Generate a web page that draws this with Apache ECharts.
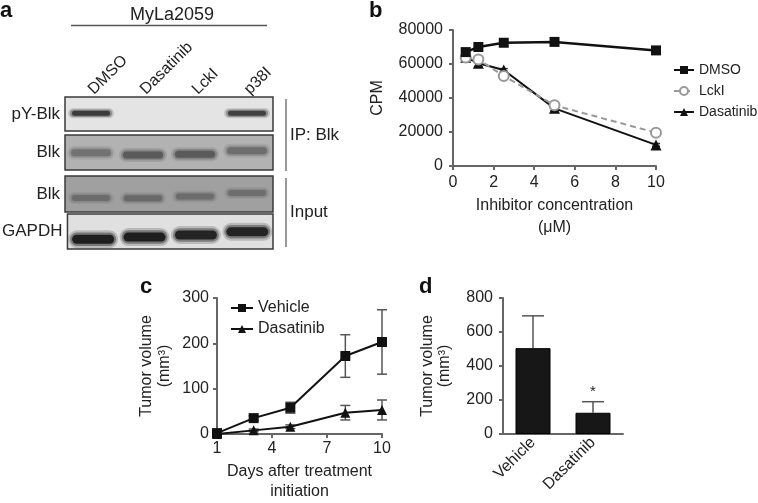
<!DOCTYPE html>
<html>
<head>
<meta charset="utf-8">
<script src="https://cdn.jsdelivr.net/npm/echarts@6/dist/echarts.min.js"></script>
<style>
  html, body { margin: 0; padding: 0; background: #fff; }
  #chart { width: 758px; height: 503px; }
</style>
</head>
<body>
<div id="chart"></div>
<script>
// ---- panel a: blot (band intensity 0..1 per lane)
const lanes = ['DMSO', 'Dasatinib', 'LckI', 'p38I'];
const blotRows = ['pY-Blk', 'Blk', 'Blk', 'GAPDH'];
const pYBlk = [0.85, 0, 0, 0.8];
const blkIP = [0.5, 0.8, 0.8, 0.55];
const blkInput = [0.55, 0.6, 0.55, 0.5];
const gapdh = [0.95, 0.95, 0.9, 0.9];

// ---- panel b: CPM vs inhibitor concentration (uM)
const concB = [0.625, 1.25, 2.5, 5, 10];
const cpmDMSO = [67000, 70000, 72500, 73000, 68000];
const cpmLckI = [63800, 62700, 52900, 35700, 19600];
const cpmDasatinib = [64000, 60400, 56500, 33900, 12400];
const errDasatinibB = [1000, 2200, 800, 1200, 800];

// ---- panel c: tumour volume over time
const daysC = [1, 3, 5, 8, 10];
const volVehicle = [2, 35, 58, 172, 203];
const errVehicle = [2, 5, 12, 47, 71];
const volDasatinib = [0, 8, 16, 47, 53];
const errDasatinib = [1, 3, 4, 16, 22];

// ---- panel d: final tumour volume
const groupsD = ['Vehicle', 'Dasatinib'];
const volD = [505, 125];
const errD = [190, 65];
const sigD = ['', '*'];

const txt = '#222';
const axisCol = '#666';
const font = '"Liberation Sans", Arial, sans-serif';

const chart = echarts.init(document.getElementById('chart'));

// blot layout: band colour, band core size, relative band height per lane
const blotBoxes = [
  { top: 97, height: 34, bg: '#e4e4e4', ink: '#222', band: [38, 5], pos: [0.52, 0.5, 0.5, 0.52] },
  { top: 135, height: 35, bg: '#b2b2b2', ink: '#4a4a4a', band: [40, 7], pos: [0.49, 0.43, 0.45, 0.55] },
  { top: 176, height: 36, bg: '#a0a0a0', ink: '#505050', band: [38, 6], pos: [0.39, 0.38, 0.43, 0.53] },
  { top: 214, height: 35, bg: '#e0e0e0', ink: '#101010', band: [42, 9], pos: [0.28, 0.34, 0.4, 0.49] }
];
const blotData = [pYBlk, blkIP, blkInput, gapdh];

// a blurred band: a few nested rounded rects with falling opacity
function bandItem(box) {
  const w = box.band[0], h = box.band[1];
  const layers = [[2.0, 8, 0.2], [1.5, 4, 0.4], [1.0, 0, 0.9]];
  return function (params, api) {
    const c = api.coord([api.value(0), api.value(1)]);
    const v = api.value(2);
    return {
      type: 'group',
      children: layers.map(([hs, wx, a]) => ({
        type: 'rect',
        shape: { x: c[0] - (w + wx) / 2, y: c[1] - h * hs / 2, width: w + wx, height: h * hs, r: h * hs / 2 },
        style: { fill: box.ink, opacity: a * v }
      }))
    };
  };
}

function axisLine() { return { show: true, onZero: false, lineStyle: { color: axisCol, width: 2 } }; }
function axisTick() { return { show: true, length: 4, lineStyle: { color: axisCol, width: 2 } }; }
function labelStyle(margin) { return { color: txt, fontSize: 16, fontFamily: font, margin: margin, formatter: v => String(v) }; }
function nameStyle(lh) { return { color: txt, fontSize: 16, fontFamily: font, lineHeight: lh }; }

function errorBars(capW, upperOnly, color, marks) {
  return function (params, api) {
    const x = api.value(0), y = api.value(1), e = api.value(2);
    const top = api.coord([x, y + e]);
    const bot = api.coord([x, upperOnly ? y : y - e]);
    const st = { stroke: color, lineWidth: 1.5 };
    const children = [
      { type: 'line', shape: { x1: top[0], y1: top[1], x2: bot[0], y2: bot[1] }, style: st },
      { type: 'line', shape: { x1: top[0] - capW / 2, y1: top[1], x2: top[0] + capW / 2, y2: top[1] }, style: st }
    ];
    if (!upperOnly)
      children.push({ type: 'line', shape: { x1: bot[0] - capW / 2, y1: bot[1], x2: bot[0] + capW / 2, y2: bot[1] }, style: st });
    if (marks && marks[params.dataIndex])
      children.push({ type: 'text', style: { text: marks[params.dataIndex], x: top[0], y: top[1] - 10, align: 'center', verticalAlign: 'middle', fontSize: 15, fontFamily: font, fill: txt } });
    return { type: 'group', children: children };
  };
}

const zip = (xs, ys) => xs.map((x, i) => [x, ys[i]]);
const zip3 = (xs, ys, es) => xs.map((x, i) => [x, ys[i], es[i]]);

const grids = blotBoxes.map(b => ({
  left: 65, width: 208, top: b.top, height: b.height, show: true,
  backgroundColor: b.bg, borderColor: '#3a3a3a', borderWidth: 1.5
}));
grids.push({ left: 453, width: 203, top: 30, height: 136 });   // b
grids.push({ left: 217, width: 165, top: 298, height: 136 });  // c
grids.push({ left: 503, width: 120, top: 298, height: 136 });  // d

const xAxes = blotBoxes.map((b, i) => ({
  type: 'category', gridIndex: i, data: lanes, position: 'top',
  axisLine: { show: false }, axisTick: { show: false },
  axisLabel: { show: i === 0, rotate: 45, color: txt, fontSize: 16, fontFamily: font, margin: 5 }
}));
xAxes.push({
  type: 'value', gridIndex: 4, min: 0, max: 10, interval: 2,
  splitLine: { show: false }, axisLine: axisLine(), axisTick: axisTick(), axisLabel: labelStyle(9),
  name: 'Inhibitor concentration\n(\u03bcM)', nameLocation: 'middle', nameGap: 29, nameTextStyle: nameStyle(22)
});
xAxes.push({
  type: 'value', gridIndex: 5, min: 1, max: 10, interval: 3,
  splitLine: { show: false }, axisLine: axisLine(), axisTick: axisTick(), axisLabel: labelStyle(7),
  name: 'Days after treatment\ninitiation', nameLocation: 'middle', nameGap: 28, nameTextStyle: nameStyle(20)
});
xAxes.push({
  type: 'category', gridIndex: 6, data: groupsD,
  axisLine: axisLine(), axisTick: { show: false },
  axisLabel: { color: txt, fontSize: 16, fontFamily: font, rotate: 45, margin: 6 }
});

const yAxes = blotBoxes.map((b, i) => ({
  type: 'value', gridIndex: i, min: 0, max: 1,
  axisLine: { show: false }, axisTick: { show: false }, axisLabel: { show: false }, splitLine: { show: false },
  name: blotRows[i], nameLocation: 'middle', nameRotate: 0, nameGap: 5,
  nameTextStyle: { color: txt, fontSize: 17, fontFamily: font }
}));
yAxes.push({
  type: 'value', gridIndex: 4, min: 0, max: 80000, interval: 20000,
  splitLine: { show: false }, axisLine: axisLine(), axisTick: axisTick(), axisLabel: labelStyle(10),
  name: 'CPM', nameLocation: 'middle', nameGap: 67, nameTextStyle: nameStyle(17)
});
yAxes.push({
  type: 'value', gridIndex: 5, min: 0, max: 300, interval: 100,
  splitLine: { show: false }, axisLine: axisLine(), axisTick: axisTick(), axisLabel: labelStyle(8),
  name: 'Tumor volume\n(mm\u00b3)', nameLocation: 'middle', nameGap: 43, nameTextStyle: nameStyle(18)
});
yAxes.push({
  type: 'value', gridIndex: 6, min: 0, max: 800, interval: 200,
  splitLine: { show: false }, axisLine: axisLine(), axisTick: axisTick(), axisLabel: labelStyle(10),
  name: 'Tumor volume\n(mm\u00b3)', nameLocation: 'middle', nameGap: 50, nameTextStyle: nameStyle(17)
});

const series = blotBoxes.map((b, i) => ({
  type: 'custom', xAxisIndex: i, yAxisIndex: i, silent: true,
  renderItem: bandItem(b),
  data: blotData[i].map((v, j) => [j, b.pos[j], v])
}));

// panel b
series.push({
  type: 'custom', name: 'errB', xAxisIndex: 4, yAxisIndex: 4, silent: true,
  renderItem: errorBars(8, false, '#333'), data: zip3(concB, cpmDasatinib, errDasatinibB)
});
series.push({
  name: 'Dasatinib', type: 'line', xAxisIndex: 4, yAxisIndex: 4,
  symbol: 'triangle', symbolSize: 11, data: zip(concB, cpmDasatinib),
  itemStyle: { color: '#111' }, lineStyle: { color: '#111', width: 2 }
});
series.push({
  name: 'LckI', type: 'line', xAxisIndex: 4, yAxisIndex: 4,
  symbol: 'circle', symbolSize: 10, data: zip(concB, cpmLckI),
  itemStyle: { color: '#fff', borderColor: '#999', borderWidth: 2 },
  lineStyle: { color: '#999', width: 2, type: [6, 4] }
});
series.push({
  name: 'DMSO', type: 'line', xAxisIndex: 4, yAxisIndex: 4,
  symbol: 'rect', symbolSize: 10, data: zip(concB, cpmDMSO),
  itemStyle: { color: '#111' }, lineStyle: { color: '#111', width: 2.5 }
});

// panel c
series.push({
  type: 'custom', xAxisIndex: 5, yAxisIndex: 5, silent: true,
  renderItem: errorBars(10, false, '#555'), data: zip3(daysC, volVehicle, errVehicle)
});
series.push({
  type: 'custom', xAxisIndex: 5, yAxisIndex: 5, silent: true,
  renderItem: errorBars(10, false, '#555'), data: zip3(daysC, volDasatinib, errDasatinib)
});
series.push({
  name: 'Vehicle', type: 'line', xAxisIndex: 5, yAxisIndex: 5,
  symbol: 'rect', symbolSize: 10, data: zip(daysC, volVehicle),
  itemStyle: { color: '#111' }, lineStyle: { color: '#111', width: 2 }
});
series.push({
  name: 'Dasatinib', type: 'line', xAxisIndex: 5, yAxisIndex: 5,
  symbol: 'triangle', symbolSize: 10, data: zip(daysC, volDasatinib),
  itemStyle: { color: '#111' }, lineStyle: { color: '#111', width: 2 }
});

// panel d
series.push({
  type: 'custom', xAxisIndex: 6, yAxisIndex: 6, silent: true, z: 3,
  renderItem: errorBars(22, true, '#555', sigD), data: zip3([0, 1], volD, errD)
});
series.push({
  type: 'bar', xAxisIndex: 6, yAxisIndex: 6, barWidth: 35, data: volD,
  itemStyle: { color: '#171717', borderColor: '#000', borderWidth: 1 }
});

const letter = (t, x, y) => ({
  type: 'text', style: { text: t, x: x, y: y, fontSize: 22, fontWeight: 'bold', fontFamily: font, fill: '#111' }
});
const plain = (t, x, y, size) => ({
  type: 'text', style: { text: t, x: x, y: y, verticalAlign: 'middle', fontSize: size, fontFamily: font, fill: txt }
});

const option = {
  animation: false,
  backgroundColor: '#fff',
  grid: grids,
  xAxis: xAxes,
  yAxis: yAxes,
  legend: [
    {
      data: ['DMSO', 'LckI', 'Dasatinib'], orient: 'vertical', left: 673, top: 63, padding: 0,
      itemWidth: 20, itemHeight: 10, itemGap: 7, selectedMode: false,
      textStyle: { color: txt, fontSize: 14, fontFamily: font, lineHeight: 14 }
    },
    {
      data: ['Vehicle', 'Dasatinib'], orient: 'vertical', left: 230, top: 300, padding: 0,
      itemWidth: 22, itemHeight: 10, itemGap: 5, selectedMode: false,
      textStyle: { color: txt, fontSize: 16, fontFamily: font, lineHeight: 16 }
    }
  ],
  graphic: [
    letter('a', 0, 0),
    letter('b', 369, 0),
    letter('c', 140, 276),
    letter('d', 419, 276),
    { type: 'text', style: { text: 'MyLa2059', x: 172, y: 15, align: 'center', verticalAlign: 'middle', fontSize: 18, fontFamily: font, fill: txt } },
    { type: 'line', shape: { x1: 71, y1: 25.5, x2: 267, y2: 25.5 }, style: { stroke: '#555', lineWidth: 1.5 } },
    { type: 'line', shape: { x1: 286, y1: 99, x2: 286, y2: 171 }, style: { stroke: '#777', lineWidth: 1.5 } },
    { type: 'line', shape: { x1: 286, y1: 178, x2: 286, y2: 247 }, style: { stroke: '#777', lineWidth: 1.5 } },
    plain('IP: Blk', 290, 135, 17),
    plain('Input', 290, 212, 17)
  ],
  series: series
};

chart.setOption(option);
</script>
</body>
</html>
